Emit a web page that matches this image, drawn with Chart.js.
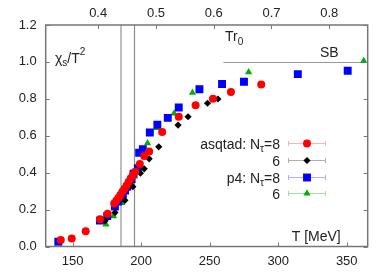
<!DOCTYPE html>
<html>
<head>
<meta charset="utf-8">
<script src="https://cdn.jsdelivr.net/npm/chart.js@4/dist/chart.umd.min.js"></script>
<style>
  html, body { margin: 0; padding: 0; background: #fff; }
</style>
</head>
<body>
<canvas id="chiChart" width="390" height="273"></canvas>
<script>
// asqtad, N_tau = 8 (rood)
const asqtad8T   = [141.3, 149.3, 159.5, 169.9, 175.5, 180.3, 181.8, 183.3, 184.8, 186.3, 187.8, 189.3, 190.8, 192.3, 193.8, 195.6, 199.0, 202.2, 205.8, 215.3, 227.4, 239.7, 252.4, 265.5, 287.6];
const asqtad8Chi = [0.035, 0.044, 0.082, 0.147, 0.178, 0.233, 0.248, 0.263, 0.279, 0.296, 0.313, 0.331, 0.349, 0.367, 0.385, 0.405, 0.447, 0.490, 0.514, 0.620, 0.703, 0.765, 0.800, 0.837, 0.878];
// asqtad, N_tau = 6 (zwart)
const asqtad6T   = [173.7, 180.9, 188.1, 193.9, 199.4, 202.2, 205.8, 212.8, 226.9, 234.2, 248.4, 256.0];
const asqtad6Chi = [0.139, 0.184, 0.250, 0.324, 0.397, 0.421, 0.475, 0.540, 0.658, 0.703, 0.776, 0.799];
// p4, N_tau = 8 (blauw)
const p48T   = [139.5, 169.9, 175.2, 180.8, 183.2, 185.0, 186.6, 188.2, 189.8, 191.5, 193.0, 194.4, 197.6, 198.5, 201.2, 206.3, 211.8, 219.4, 227.4, 242.5, 259.0, 275.0, 314.3, 350.7];
const p48Chi = [0.026, 0.140, 0.165, 0.216, 0.243, 0.262, 0.283, 0.303, 0.323, 0.343, 0.365, 0.395, 0.424, 0.508, 0.527, 0.618, 0.660, 0.697, 0.753, 0.852, 0.880, 0.893, 0.934, 0.952];
// p4, N_tau = 6 (groen)
const p46T   = [174.3, 179.8, 185.9, 195.0, 201.0, 204.6, 211.2, 224.0, 237.4, 278.4, 362.4];
const p46Chi = [0.120, 0.165, 0.236, 0.380, 0.503, 0.560, 0.643, 0.721, 0.833, 0.944, 1.005];

// assen
const tMin = 130.3, tMax = 365.3;
const r0Factor = 421.5;           // T [MeV] = Tr0 * r0Factor
const tTicks   = [150, 200, 250, 300, 350];
const tr0Ticks = [0.4, 0.5, 0.6, 0.7, 0.8];
const chiTicks = [0, 0.2, 0.4, 0.6, 0.8, 1.0, 1.2];
const tcLines  = [185, 195];
const sbStart  = 260, sbValue = 1.0;

const fontFam = '"Liberation Sans", Arial, Helvetica, sans-serif';
const textCol = '#222';
const frameCol = '#777';

function pts(xs, ys) {
    return xs.map((x, i) => ({ x: x, y: ys[i] }));
}

const series = [
    { label: ['asqtad: N', 'τ', '=8'], data: pts(asqtad8T, asqtad8Chi), color: '#ff0000', err: '#ffb0b0', style: 'circle',   radius: 4 },
    { label: ['6'],                    data: pts(asqtad6T, asqtad6Chi), color: '#000000', err: '#b0b0b0', style: 'rectRot',  radius: 3.6 },
    { label: ['p4: N', 'τ', '=8'],     data: pts(p48T, p48Chi),         color: '#0000ff', err: '#b0b0ff', style: 'rect',     radius: 5.6 },
    { label: ['6'],                    data: pts(p46T, p46Chi),         color: '#00b000', err: '#a8dca8', style: 'triangle', radius: 4.2 }
];

// tekst met sub- en superscript
function drawParts(ctx, parts, x, y, align) {
    let w = 0;
    parts.forEach(p => { ctx.font = p.size + 'px ' + fontFam; w += ctx.measureText(p.t).width; });
    let cx = align === 'right' ? x - w : x;
    ctx.textAlign = 'left';
    ctx.textBaseline = 'alphabetic';
    parts.forEach(p => {
        ctx.font = p.size + 'px ' + fontFam;
        ctx.fillText(p.t, cx, y + (p.dy || 0));
        cx += ctx.measureText(p.t).width;
    });
}

const decorPlugin = {
    id: 'decor',
    beforeDatasetsDraw(chart) {
        const ctx = chart.ctx, a = chart.chartArea;
        const xs = chart.scales.x, ys = chart.scales.y;
        ctx.save();
        // Tc lijnen
        ctx.strokeStyle = '#bdbdbd';
        ctx.lineWidth = 2;
        let px = Math.round(xs.getPixelForValue(tcLines[0]));
        ctx.beginPath(); ctx.moveTo(px, a.top); ctx.lineTo(px, a.bottom); ctx.stroke();
        ctx.strokeStyle = '#8c8c8c';
        ctx.lineWidth = 1.2;
        px = Math.round(xs.getPixelForValue(tcLines[1])) + 0.5;
        ctx.beginPath(); ctx.moveTo(px, a.top); ctx.lineTo(px, a.bottom); ctx.stroke();
        // SB limiet
        const py = Math.round(ys.getPixelForValue(sbValue)) + 0.5;
        ctx.strokeStyle = '#999';
        ctx.lineWidth = 1.2;
        ctx.beginPath(); ctx.moveTo(xs.getPixelForValue(sbStart), py); ctx.lineTo(a.right, py); ctx.stroke();
        ctx.restore();
    },
    afterDraw(chart) {
        const ctx = chart.ctx, a = chart.chartArea;
        const xs = chart.scales.x, xt = chart.scales.xTop, ys = chart.scales.y;
        ctx.save();
        // kader en tickjes naar binnen
        ctx.strokeStyle = frameCol;
        ctx.lineWidth = 1.5;
        ctx.strokeRect(a.left, a.top, a.right - a.left, a.bottom - a.top);
        ctx.lineWidth = 1;
        const tl = 4;
        ctx.beginPath();
        tTicks.forEach(v => {
            const p = Math.round(xs.getPixelForValue(v)) + 0.5;
            ctx.moveTo(p, a.bottom); ctx.lineTo(p, a.bottom - tl);
        });
        tr0Ticks.forEach(v => {
            const p = Math.round(xt.getPixelForValue(v)) + 0.5;
            ctx.moveTo(p, a.top); ctx.lineTo(p, a.top + tl);
        });
        chiTicks.forEach(v => {
            const p = Math.round(ys.getPixelForValue(v)) + 0.5;
            ctx.moveTo(a.left, p); ctx.lineTo(a.left + tl, p);
            ctx.moveTo(a.right, p); ctx.lineTo(a.right - tl, p);
        });
        ctx.stroke();

        // labels in de plot
        ctx.fillStyle = textCol;
        drawParts(ctx, [{ t: 'χ', size: 14 }, { t: 's', size: 10, dy: 3.5 }, { t: '/T', size: 14 }, { t: '2', size: 10, dy: -7.5 }], 55, 62.7);
        drawParts(ctx, [{ t: 'Tr', size: 14 }, { t: '0', size: 10, dy: 4 }], 225, 40.7);
        drawParts(ctx, [{ t: 'SB', size: 14 }], 320, 56.7);
        drawParts(ctx, [{ t: 'T [MeV]', size: 14 }], 291.7, 241);

        // legenda: tekst rechts uitgelijnd, daarnaast foutbalk met symbool
        series.forEach((s, i) => {
            const cy = Math.round(143.3 + i * 16.67) + 0.5;
            const parts = s.label.length === 3
                ? [{ t: s.label[0], size: 14 }, { t: s.label[1], size: 10, dy: 3.5 }, { t: s.label[2], size: 14 }]
                : [{ t: s.label[0], size: 14 }];
            ctx.fillStyle = textCol;
            drawParts(ctx, parts, 280, cy + 5, 'right');

            const x1 = 288, x2 = 326, xm = 307;
            ctx.strokeStyle = s.err;
            ctx.lineWidth = 1;
            ctx.beginPath();
            ctx.moveTo(x1, cy); ctx.lineTo(x2, cy);
            ctx.moveTo(x1 + 0.5, cy - 2.5); ctx.lineTo(x1 + 0.5, cy + 2.5);
            ctx.moveTo(x2 - 0.5, cy - 2.5); ctx.lineTo(x2 - 0.5, cy + 2.5);
            ctx.stroke();
            ctx.fillStyle = s.color;
            ctx.strokeStyle = s.color;
            Chart.helpers.drawPoint(ctx, { pointStyle: s.style, radius: s.radius, rotation: 0, borderWidth: 0 }, xm, cy);
        });
        ctx.restore();
    }
};

const tickFont = { family: fontFam, size: 13 };

new Chart(document.getElementById('chiChart'), {
    type: 'scatter',
    data: {
        datasets: series.map(s => ({
            label: s.label.join(''),
            data: s.data,
            pointStyle: s.style,
            pointRadius: s.radius,
            pointBackgroundColor: s.color,
            pointBorderColor: s.color,
            pointBorderWidth: 0,
            showLine: false
        }))
    },
    options: {
        responsive: false,
        animation: false,
        layout: { padding: { left: 0, right: 22.3, top: 0, bottom: 0 } },
        plugins: { legend: { display: false }, tooltip: { enabled: false } },
        scales: {
            x: {
                type: 'linear', position: 'bottom', min: tMin, max: tMax,
                afterBuildTicks: s => { s.ticks = tTicks.map(v => ({ value: v })); },
                afterFit: s => { s.height = 26.5; },
                grid: { display: false, drawTicks: false },
                border: { display: false },
                ticks: { padding: 7, font: tickFont, color: textCol, maxRotation: 0, callback: v => String(v) }
            },
            xTop: {
                type: 'linear', position: 'top', min: tMin / r0Factor, max: tMax / r0Factor,
                afterBuildTicks: s => { s.ticks = tr0Ticks.map(v => ({ value: v })); },
                afterFit: s => { s.height = 25; },
                grid: { display: false, drawTicks: false },
                border: { display: false },
                ticks: { padding: 4, font: tickFont, color: textCol, maxRotation: 0, callback: v => v.toFixed(1) }
            },
            y: {
                type: 'linear', position: 'left', min: 0, max: 1.2,
                afterBuildTicks: s => { s.ticks = chiTicks.map(v => ({ value: v })); },
                afterFit: s => { s.width = 45.7; },
                grid: { display: false, drawTicks: false },
                border: { display: false },
                ticks: { padding: 9, font: tickFont, color: textCol, callback: v => v.toFixed(1) }
            }
        }
    },
    plugins: [decorPlugin]
});
</script>
</body>
</html>
